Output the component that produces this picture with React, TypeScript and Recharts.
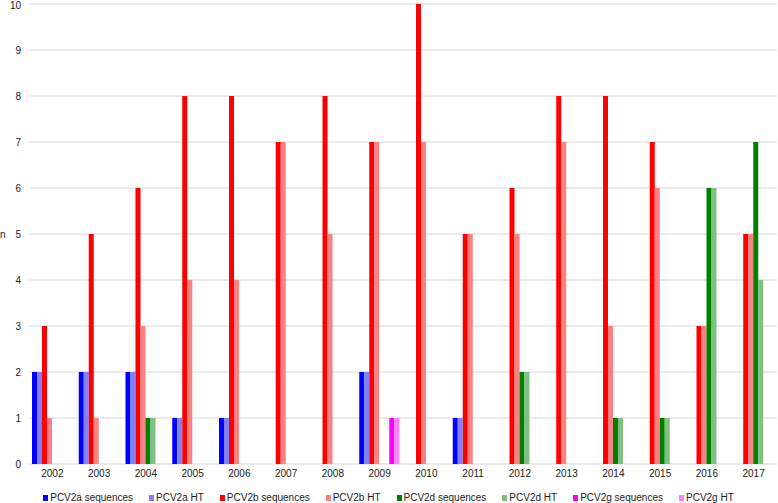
import { Bar, BarChart, CartesianGrid, Legend, XAxis, YAxis } from "recharts";

const years = ["2002", "2003", "2004", "2005", "2006", "2007", "2008", "2009", "2010", "2011", "2012", "2013", "2014", "2015", "2016", "2017"];

const pcv2aSeq = [2, 2, 2, 1, 1, 0, 0, 2, 0, 1, 0, 0, 0, 0, 0, 0];
const pcv2aHt = [2, 2, 2, 1, 1, 0, 0, 2, 0, 1, 0, 0, 0, 0, 0, 0];
const pcv2bSeq = [3, 5, 6, 8, 8, 7, 8, 7, 10, 5, 6, 8, 8, 7, 3, 5];
const pcv2bHt = [1, 1, 3, 4, 4, 7, 5, 7, 7, 5, 5, 7, 3, 6, 3, 5];
const pcv2dSeq = [0, 0, 1, 0, 0, 0, 0, 0, 0, 0, 2, 0, 1, 1, 6, 7];
const pcv2dHt = [0, 0, 1, 0, 0, 0, 0, 0, 0, 0, 2, 0, 1, 1, 6, 4];
const pcv2gSeq = [0, 0, 0, 0, 0, 0, 0, 1, 0, 0, 0, 0, 0, 0, 0, 0];
const pcv2gHt = [0, 0, 0, 0, 0, 0, 0, 1, 0, 0, 0, 0, 0, 0, 0, 0];

const yTicks = [0, 1, 2, 3, 4, 5, 6, 7, 8, 9, 10];

const series = [
  { key: "aSeq", name: "PCV2a sequences", values: pcv2aSeq, color: "#0000ff" },
  { key: "aHt", name: "PCV2a HT", values: pcv2aHt, color: "#8080ff" },
  { key: "bSeq", name: "PCV2b sequences", values: pcv2bSeq, color: "#ff0000" },
  { key: "bHt", name: "PCV2b HT", values: pcv2bHt, color: "#ff8080" },
  { key: "dSeq", name: "PCV2d sequences", values: pcv2dSeq, color: "#008000" },
  { key: "dHt", name: "PCV2d HT", values: pcv2dHt, color: "#80c080" },
  { key: "gSeq", name: "PCV2g sequences", values: pcv2gSeq, color: "#ff00ff" },
  { key: "gHt", name: "PCV2g HT", values: pcv2gHt, color: "#ff80ff" },
];

const data = years.map((year, i) => {
  const row: Record<string, string | number> = { year };
  series.forEach(s => {
    row[s.key] = s.values[i];
  });
  return row;
});

const FONT = '"Liberation Sans", Arial, Helvetica, sans-serif';

function LegendRow() {
  return (
    <div
      style={{
        display: "flex",
        justifyContent: "center",
        gap: 16,
        height: 14,
        lineHeight: "14px",
        position: "relative",
        top: 2,
        fontFamily: FONT,
        fontSize: 10,
        color: "#222",
      }}
    >
      {series.map(s => (
        <span key={s.key} style={{ display: "flex", alignItems: "center" }}>
          <span style={{ width: 5, height: 6, background: s.color, marginRight: 2 }} />
          {s.name}
        </span>
      ))}
    </div>
  );
}

export default function App() {
  return (
    <div style={{ position: "absolute", left: 0, top: 0, background: "#fff" }}>
      <BarChart
        width={778}
        height={503}
        data={data}
        margin={{ top: 4, right: 1, bottom: 0, left: 0 }}
        barGap={0}
        barSize={5}
      >
        <CartesianGrid vertical={false} stroke="#d6d6d6" />
        <XAxis
          dataKey="year"
          axisLine={false}
          tickLine={false}
          tickSize={0}
          tickMargin={6}
          height={25}
          interval={0}
          tick={{ fill: "#222", fontSize: 10, fontFamily: FONT }}
        />
        <YAxis
          domain={[0, 10]}
          ticks={yTicks}
          axisLine={false}
          tickLine={false}
          tickSize={0}
          tickMargin={8}
          width={29}
          tick={{ fill: "#222", fontSize: 10, fontFamily: FONT }}
          label={{
            value: "n",
            position: "insideLeft",
            offset: 0,
            style: { fill: "#222", fontSize: 10, fontFamily: FONT },
          }}
        />
        <Legend verticalAlign="bottom" height={14} content={() => <LegendRow />} />
        {series.map(s => (
          <Bar key={s.key} dataKey={s.key} name={s.name} fill={s.color} isAnimationActive={false} />
        ))}
      </BarChart>
    </div>
  );
}
